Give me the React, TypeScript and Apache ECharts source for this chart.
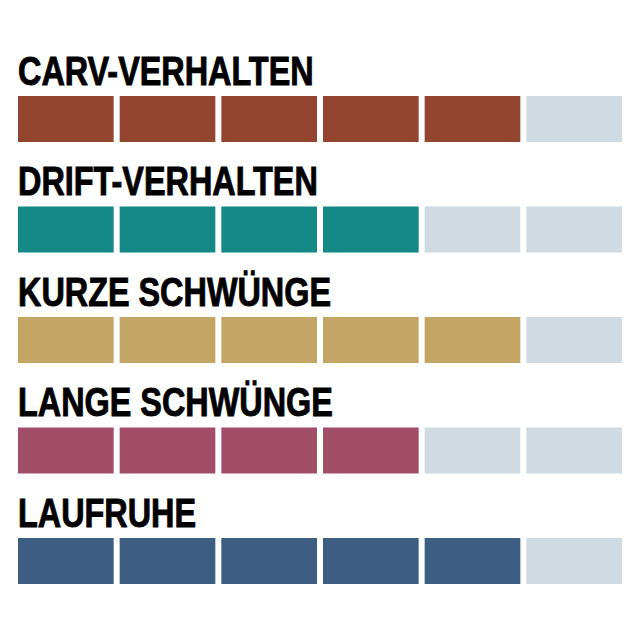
import React, { useEffect, useRef } from "react";
import * as echarts from "echarts";

const categories = [
  "CARV-VERHALTEN",
  "DRIFT-VERHALTEN",
  "KURZE SCHWÜNGE",
  "LANGE SCHWÜNGE",
  "LAUFRUHE",
];
const scores = [5, 4, 5, 4, 5];
const maxScore = 6;
const rowColors = ["#94452F", "#138884", "#C3A664", "#A34E69", "#3D5D83"];
const emptyColor = "#CFDAE3";

const App: React.FC = () => {
  const chartRef = useRef<HTMLDivElement>(null);

  useEffect(() => {
    if (!chartRef.current) return;
    const chart = echarts.init(chartRef.current, undefined, { renderer: "svg" });

    // one item per segment: [segment, row, filled]
    const segments: number[][] = [];
    scores.forEach((score, row) => {
      for (let seg = 0; seg < maxScore; seg++) {
        segments.push([seg, row, seg < score ? 1 : 0]);
      }
    });
    const titles = categories.map((_, row) => [0, row]);

    const gap = 6;
    const barHeight = 46;

    const option: echarts.EChartsOption = {
      animation: false,
      backgroundColor: "#ffffff",
      grid: { left: 18, right: 12, top: 63.75, bottom: 23.75 },
      xAxis: { type: "value", min: 0, max: maxScore, show: false },
      yAxis: {
        type: "category",
        data: categories,
        inverse: true,
        show: false,
      },
      series: [
        {
          type: "custom",
          data: segments,
          renderItem: (params: any, api: any) => {
            const seg = api.value(0);
            const row = api.value(1);
            const filled = api.value(2);
            const start = api.coord([seg, row]);
            const end = api.coord([seg + 1, row]);
            return {
              type: "rect",
              shape: {
                x: start[0],
                y: start[1] - barHeight / 2,
                width: end[0] - start[0] - gap,
                height: barHeight,
              },
              style: { fill: filled ? rowColors[row] : emptyColor },
            };
          },
        },
        {
          type: "custom",
          data: titles,
          renderItem: (params: any, api: any) => {
            const row = api.value(1);
            const pt = api.coord([0, row]);
            return {
              type: "text",
              x: pt[0],
              y: pt[1] - 48,
              scaleX: 0.81,
              style: {
                text: categories[row],
                fill: "#000000",
                stroke: "#000000",
                lineWidth: 0.9,
                font: 'bold 40px "Liberation Sans", Arial, sans-serif',
                align: "left",
                verticalAlign: "middle",
              },
            };
          },
        },
      ],
    };

    chart.setOption(option);
    return () => chart.dispose();
  }, []);

  return (
    <div
      ref={chartRef}
      style={{ position: "absolute", left: 0, top: 0, width: 640, height: 640 }}
    />
  );
};

export default App;
